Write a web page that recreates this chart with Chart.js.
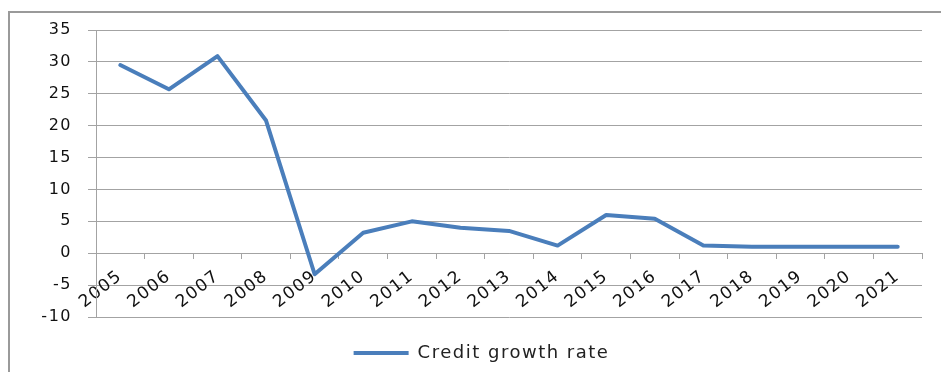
<!DOCTYPE html>
<html>
<head>
<meta charset="utf-8">
<script src="https://cdn.jsdelivr.net/npm/chart.js@4/dist/chart.umd.min.js"></script>
<style>
  html, body { margin: 0; padding: 0; background: #fff; overflow: hidden; }
  #wrap { position: relative; width: 941px; height: 372px; }
  #frame {
    position: absolute; left: 8px; top: 11px; width: 960px; height: 400px;
    border-left: 2px solid #9a9a9a; border-top: 2px solid #9a9a9a;
    pointer-events: none;
  }
  canvas { position: absolute; left: 0; top: 0; }
</style>
</head>
<body>
<div id="wrap">
  <canvas id="chart" width="941" height="372"></canvas>
  <div id="frame"></div>
</div>
<script>
// Annual credit growth rate (%)
const years = ['2005','2006','2007','2008','2009','2010','2011','2012','2013',
               '2014','2015','2016','2017','2018','2019','2020','2021'];
const creditGrowth = [29.5, 25.7, 30.9, 20.8, -3.3, 3.2, 5.0, 4.0, 3.5,
                      1.2, 6.0, 5.4, 1.2, 1.0, 1.0, 1.0, 1.0];
const seriesName = 'Credit growth rate';
const yTicks = [-10, -5, 0, 5, 10, 15, 20, 25, 30, 35];

const gridColor = '#a3a3a3';
const lineColor = '#4a7ebb';
const textSpacing = '1.5px';

// Slightly tracked-out lettering for every label on the canvas
const letterSpacingPlugin = {
  id: 'letterSpacing',
  beforeUpdate(chart) { chart.ctx.letterSpacing = textSpacing; },
  beforeDraw(chart) { chart.ctx.letterSpacing = textSpacing; }
};

new Chart(document.getElementById('chart'), {
  type: 'line',
  plugins: [letterSpacingPlugin],
  data: {
    labels: years,
    datasets: [{
      label: seriesName,
      data: creditGrowth,
      borderColor: lineColor,
      backgroundColor: lineColor,
      borderWidth: 4,
      pointRadius: 0,
      tension: 0,
      borderJoinStyle: 'round',
      borderCapStyle: 'round'
    }]
  },
  options: {
    responsive: false,
    animation: false,
    layout: { padding: { top: 30, right: 19, left: 41, bottom: 0 } },
    plugins: {
      tooltip: { enabled: false },
      legend: {
        position: 'bottom',
        // empty title only adds spacing between the x labels and the legend entry
        title: { display: true, text: '', font: { size: 10, lineHeight: 1.2 }, padding: { top: 0, bottom: 7 } },
        labels: {
          usePointStyle: true,
          pointStyle: 'line',
          pointStyleWidth: 55,
          color: '#222',
          font: { family: 'DejaVu Sans', size: 18 },
          padding: 8
        }
      }
    },
    scales: {
      x: {
        type: 'category',
        offset: true,
        position: { y: 0 },
        grid: {
          offset: true,
          drawOnChartArea: false,
          drawTicks: true,
          tickLength: 5,
          color: gridColor
        },
        border: { display: true, color: gridColor },
        ticks: {
          autoSkip: false,
          minRotation: 38,
          maxRotation: 38,
          padding: 8,
          color: '#111',
          font: { family: 'DejaVu Sans', size: 17 }
        }
      },
      y: {
        min: -10,
        max: 35,
        afterBuildTicks: (scale) => { scale.ticks = yTicks.map(v => ({ value: v })); },
        afterFit: (scale) => { scale.width = 55; },
        grid: { color: gridColor, tickLength: 8, drawTicks: true },
        border: { display: true, color: gridColor },
        ticks: {
          padding: 16,
          color: '#111',
          font: { family: 'DejaVu Sans', size: 16 }
        }
      }
    }
  }
});
</script>
</body>
</html>
